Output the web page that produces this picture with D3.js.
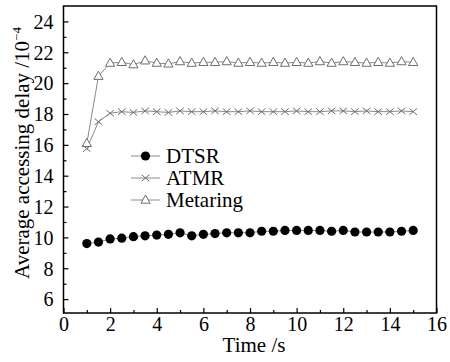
<!DOCTYPE html>
<html>
<head>
<meta charset="utf-8">
<script src="https://cdn.jsdelivr.net/npm/d3@7"></script>
</head>
<body style="margin:0">
<svg id="fig" width="450" height="362"></svg>
<script>
// time axis (s), one point every half second
const times = [1, 1.5, 2, 2.5, 3, 3.5, 4, 4.5, 5, 5.5, 6, 6.5, 7, 7.5, 8,
  8.5, 9, 9.5, 10, 10.5, 11, 11.5, 12, 12.5, 13, 13.5, 14, 14.5, 15];

const dtsr = [9.6, 9.7, 9.9, 9.95, 10.05, 10.1, 10.15, 10.2, 10.3, 10.1, 10.2, 10.25, 10.3, 10.3, 10.3,
  10.4, 10.4, 10.45, 10.45, 10.45, 10.45, 10.4, 10.45, 10.35, 10.35, 10.35, 10.35, 10.4, 10.45];

const atmr = [15.75, 17.5, 18.05, 18.15, 18.1, 18.2, 18.15, 18.1, 18.2, 18.15, 18.15, 18.2, 18.15, 18.15, 18.2,
  18.15, 18.15, 18.15, 18.2, 18.15, 18.15, 18.2, 18.2, 18.15, 18.2, 18.15, 18.15, 18.2, 18.15];

const metaring = [16.1, 20.45, 21.3, 21.35, 21.2, 21.45, 21.3, 21.25, 21.4, 21.3, 21.35, 21.35, 21.4, 21.3, 21.35,
  21.3, 21.35, 21.3, 21.35, 21.3, 21.4, 21.3, 21.4, 21.35, 21.3, 21.35, 21.3, 21.4, 21.35];

const xMajor = [0, 2, 4, 6, 8, 10, 12, 14, 16];
const xMinor = [1, 3, 5, 7, 9, 11, 13, 15];
const yMajor = [6, 8, 10, 12, 14, 16, 18, 20, 22, 24];
const yMinor = [7, 9, 11, 13, 15, 17, 19, 21, 23];

const svg = d3.select('#fig');

const x = d3.scaleLinear().domain([0, 16]).range([63.5, 436.5]);
const y = d3.scaleLinear().domain([5.1, 25]).range([313, 6]);

// ticks point inward, only on left and bottom
function tickAxis(axis, values, size, labels) {
  const a = axis.tickValues(values).tickSizeInner(-size).tickSizeOuter(0);
  if (!labels) a.tickFormat('');
  return a;
}

const gx = svg.append('g').attr('transform', `translate(0,${y.range()[0]})`);
gx.call(tickAxis(d3.axisBottom(x), xMajor, 5, true));
const gxm = svg.append('g').attr('transform', `translate(0,${y.range()[0]})`);
gxm.call(tickAxis(d3.axisBottom(x), xMinor, 3, false));

const gy = svg.append('g').attr('transform', `translate(${x.range()[0]},0)`);
gy.call(tickAxis(d3.axisLeft(y), yMajor, 5, true));
const gym = svg.append('g').attr('transform', `translate(${x.range()[0]},0)`);
gym.call(tickAxis(d3.axisLeft(y), yMinor, 3, false));

svg.selectAll('.domain').remove();
svg.selectAll('.tick line').attr('stroke', '#000').attr('stroke-width', 1.2);
svg.selectAll('.tick text').attr('font-size', 20).attr('fill', '#000');
gy.selectAll('.tick text').attr('x', -10).attr('dy', '0.34em');
gx.selectAll('.tick text').attr('y', 3.5);

// frame
svg.append('rect')
  .attr('x', x.range()[0]).attr('y', y.range()[1])
  .attr('width', x.range()[1] - x.range()[0])
  .attr('height', y.range()[0] - y.range()[1])
  .attr('fill', 'none').attr('stroke', '#000').attr('stroke-width', 1.5);

const line = d3.line().x((d, i) => x(times[i])).y(d => y(d));
const grey = '#8a8a8a';

// lines
[metaring, atmr, dtsr].forEach(s => {
  svg.append('path').datum(s).attr('d', line)
    .attr('fill', 'none').attr('stroke', grey).attr('stroke-width', 1);
});

const triPath = 'M0,-5L4.6,3.2L-4.6,3.2Z';
const crossPath = 'M-3.8,-3.2L3.8,3.2M-3.8,3.2L3.8,-3.2';

function triangles(g, data, xs) {
  g.selectAll(null).data(data).enter().append('path')
    .attr('transform', (d, i) => `translate(${xs(i)},${y(d)})`)
    .attr('d', triPath).attr('fill', '#fff').attr('stroke', '#6e6e6e').attr('stroke-width', 1);
}

function crosses(g, data, xs) {
  g.selectAll(null).data(data).enter().append('path')
    .attr('transform', (d, i) => `translate(${xs(i)},${y(d)})`)
    .attr('d', crossPath).attr('fill', 'none').attr('stroke', '#6e6e6e').attr('stroke-width', 1);
}

triangles(svg.append('g'), metaring, i => x(times[i]));
crosses(svg.append('g'), atmr, i => x(times[i]));

svg.append('g').selectAll('circle').data(dtsr).enter().append('circle')
  .attr('cx', (d, i) => x(times[i]))
  .attr('cy', d => y(d))
  .attr('r', 4.6)
  .attr('fill', '#000');

// legend
const legend = [
  {name: 'DTSR', type: 'circle', cy: 156},
  {name: 'ATMR', type: 'cross', cy: 178},
  {name: 'Metaring', type: 'tri', cy: 200}
];
const lx0 = 131, lx1 = 160, lxm = 145.5;
legend.forEach(l => {
  const g = svg.append('g');
  g.append('line').attr('x1', lx0).attr('x2', lx1).attr('y1', l.cy).attr('y2', l.cy)
    .attr('stroke', grey).attr('stroke-width', 1);
  if (l.type === 'circle') {
    g.append('circle').attr('cx', lxm).attr('cy', l.cy).attr('r', 4.6).attr('fill', '#000');
  } else if (l.type === 'cross') {
    g.append('path').attr('transform', `translate(${lxm},${l.cy})`).attr('d', crossPath)
      .attr('stroke', '#6e6e6e').attr('fill', 'none');
  } else {
    g.append('path').attr('transform', `translate(${lxm},${l.cy})`).attr('d', triPath)
      .attr('stroke', '#6e6e6e').attr('fill', '#fff');
  }
  g.append('text').attr('x', 166).attr('y', l.cy).attr('dy', '0.35em')
    .attr('font-size', 21).attr('fill', '#000').text(l.name);
});

// axis titles
svg.append('text')
  .attr('x', 254).attr('y', 352)
  .attr('text-anchor', 'middle').attr('font-size', 21)
  .text('Time /s');

const yt = svg.append('text')
  .attr('transform', 'translate(29,153) rotate(-90)')
  .attr('text-anchor', 'middle').attr('font-size', 21);
yt.append('tspan').text('Average accessing delay /10');
yt.append('tspan').attr('dy', -8).attr('font-size', 13).text('\u22124');

// serif on every text, forced over the axis' own font-family
svg.selectAll('text').each(function () {
  this.style.setProperty('font-family', '"Liberation Serif"', 'important');
});
</script>
</body>
</html>
